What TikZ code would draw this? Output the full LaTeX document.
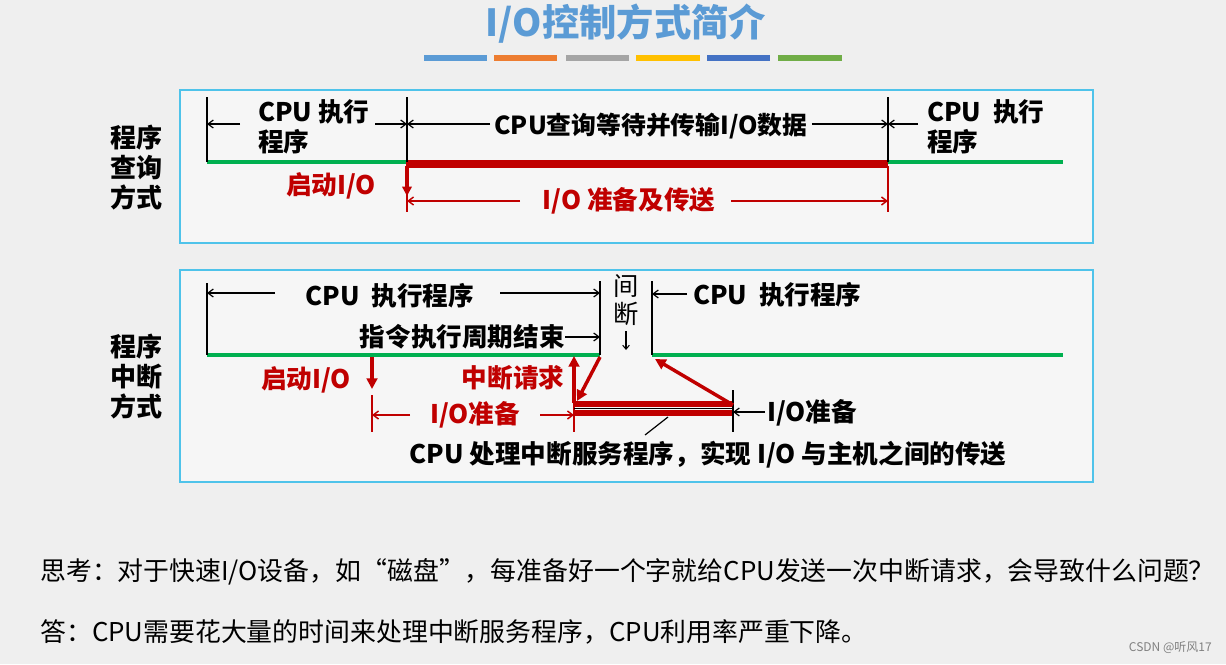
\documentclass[tikz,border=0pt]{standalone}
\usepackage{fontspec}
\setmainfont{Noto Sans CJK SC}
\usetikzlibrary{arrows.meta}
\definecolor{bg}{HTML}{EFEFEF}
\definecolor{panel}{HTML}{F6F6F6}
\definecolor{frame}{HTML}{4FC3EA}
\definecolor{myred}{HTML}{C00000}
\definecolor{mygreen}{HTML}{00B050}
\definecolor{ttlblue}{HTML}{5B9BD5}
\definecolor{b1}{HTML}{5B9BD5}
\definecolor{b2}{HTML}{ED7D31}
\definecolor{b3}{HTML}{A5A5A5}
\definecolor{b4}{HTML}{FFC000}
\definecolor{b5}{HTML}{4472C4}
\definecolor{b6}{HTML}{70AD47}
\begin{document}
\begin{tikzpicture}[x=0.75pt,y=-0.75pt,
  lbl/.style={font=\fontsize{19.2}{22.5}\selectfont\bfseries, inner sep=0pt, align=left},
  rlbl/.style={lbl, text=myred},
  side/.style={font=\fontsize{19.5}{22.5}\selectfont\bfseries, inner sep=0pt, align=center},
  panelbox/.style={draw=frame, fill=panel, line width=1.2pt},
  tick/.style={draw=black, line width=1.3pt},
  axis/.style={draw=black, line width=0.8pt},
  cpuline/.style={draw=mygreen, line width=3pt},
  ioline/.style={draw=myred, line width=6pt},
  dim/.style={draw=black, line width=0.9pt, -{Straight Barb[length=4pt,width=6pt]}},
  rdim/.style={draw=myred, line width=1.1pt, -{Straight Barb[length=4pt,width=6pt]}},
  rtick/.style={draw=myred, line width=1.5pt},
  rarrow/.style={draw=myred, line width=2.6pt, -{Triangle[length=8pt,width=8pt]}},
  bar/.style={line width=4.5pt},
  note/.style={font=\fontsize{19.4}{22}\selectfont, inner sep=0pt, anchor=west}
]
\useasboundingbox (0,0) rectangle (1226,664);
\fill[bg] (0,0) rectangle (1226,664);

% title
\node[font=\fontsize{28}{32}\selectfont\bfseries, text=ttlblue, inner sep=0pt] (title) at (626,24) {I/O控制方式简介};
\draw[bar, b1] (424,58) -- (487,58);
\draw[bar, b2] (494,58) -- (557,58);
\draw[bar, b3] (566,58) -- (629,58);
\draw[bar, b4] (636,58) -- (700,58);
\draw[bar, b5] (707,58) -- (770,58);
\draw[bar, b6] (778,58) -- (842,58);

% panels
\draw[panelbox] (180,90) rectangle (1093,243);
\draw[panelbox] (180,270) rectangle (1093,482);

% side labels
\node[side] (s1) at (136,168) {程序\\查询\\方式};
\node[side] (s2) at (136,377) {程序\\中断\\方式};

% ===== top panel (polling) =====
\coordinate (A0) at (207,162);
\coordinate (A1) at (407,162);
\coordinate (A2) at (888,162);
\coordinate (A3) at (1063,162);
\coordinate (A0t) at (207,97);
\coordinate (A1t) at (407,97);
\coordinate (A2t) at (888,97);
\coordinate (A1b) at (407,212);
\coordinate (A2b) at (888,212);

\draw[axis] (A0) -- (A3);
\draw[cpuline] (A0) -- (A1);
\draw[ioline] ([yshift=-1.5pt]A1) -- ([yshift=-1.5pt]A2);
\draw[cpuline] (A2) -- (A3);
\draw[tick] (A0t) -- (A0);
\draw[tick] (A1t) -- (A1);
\draw[tick] (A2t) -- (A2);
\draw[rtick] (A1) -- (A1b);
\draw[rtick] ([yshift=-3pt]A2) -- (A2b);
\draw[draw=myred, line width=2.4pt, -{Triangle[length=7pt,width=7pt]}] ([yshift=-3pt]A1) -- (407,196);

\node[lbl, anchor=west] (ta) at (258,127) {CPU 执行\\程序};
\node[lbl, font=\fontsize{18.6}{22.5}\selectfont\bfseries] (tb) at (651,126) {CPU查询等待并传输I/O数据};
\node[lbl, anchor=west] (tc) at (927,127) {CPU\ \ 执行\\程序};
\node[rlbl] (td) at (331,186) {启动I/O};
\node[rlbl] (te) at (629,201) {I/O 准备及传送};

\coordinate (p1) at (240,124);
\coordinate (p2) at (375,124);
\coordinate (p4) at (818,124);
\coordinate (p5) at (918,124);
\draw[dim] (p1) -- (207,124);
\draw[dim] (p2) -- (407,124);
\draw[dim] ([xshift=-3pt]tb.west |- p1) -- (407,124);
\draw[dim] ([xshift=3pt]tb.east |- p4) -- (888,124);
\draw[dim] (p5) -- (888,124);
\coordinate (q1) at (520,201);
\coordinate (q2) at (731,201);
\draw[rdim] (q1) -- (407,201);
\draw[rdim] (q2) -- (888,201);

% ===== bottom panel (interrupt) =====
\coordinate (B0) at (207,355);
\coordinate (B1) at (600,355);
\coordinate (B2) at (652,355);
\coordinate (B3) at (1063,355);
\draw[axis] (B0) -- (B1);
\draw[axis] (B2) -- (B3);
\draw[cpuline] (B0) -- (B1);
\draw[cpuline] (B2) -- (B3);
\draw[tick] (207,283) -- (B0);
\draw[tick] (600,281) -- (B1);
\draw[tick] (652,281) -- (B2);

\node[lbl] (ua) at (390,296) {CPU\ \ 执行程序};
\node[lbl, anchor=west] (ub) at (693,295) {CPU\ \ 执行程序};
\node[lbl, anchor=east] (uc) at (565,337) {指令执行周期结束};
\node[font=\fontsize{19}{21.5}\selectfont, inner sep=0pt, align=center] (ud) at (626,300) {间\\断};
\coordinate (ud1) at (626,331);
\coordinate (ud2) at (626,350);
\draw[draw=black, line width=0.8pt, -{Straight Barb[length=3pt,width=5pt]}] (ud1) -- (ud2);

\draw[dim] (275,293) -- (207,293);
\draw[dim] (500,293) -- (600,293);
\draw[dim] (687,294) -- (652,294);
\draw[dim] (uc.east) -- (600,337);

\node[rlbl] (ue) at (306,380) {启动I/O};
\node[rlbl] (uf) at (513,378) {中断请求};
\node[rlbl] (ug) at (475,415) {I/O准备};
\node[lbl] (uh) at (812,413) {I/O准备};
\node[lbl] (ui) at (708,455) {CPU 处理中断服务程序，实现 I/O 与主机之间的传送};

% start I/O arrow
\draw[rarrow] (372,357) -- (372,389);
\draw[rtick] (372,395) -- (372,432);
\draw[rtick] (574,400) -- (574,432);
\draw[rdim] (410,415) -- (372,415);
\draw[rdim] (540,415) -- (574,415);

% service routine band
\coordinate (C0) at (574,408);
\coordinate (C1) at (733,408);
\draw[draw=myred, line width=4pt] (574,404) -- (733,404);
\draw[draw=myred, line width=4.5pt] (574,413) -- (733,413);
\draw[draw=black, line width=0.8pt] (574,408.5) -- (733,408.5);
\draw[tick] (733,390) -- (733,432);
\draw[dim] (765,412) -- (733,412);
\draw[draw=black, line width=0.9pt] (668,417) -- (645,435);

% interrupt arrows
\draw[rarrow] (574,403) -- (574,356);
\draw[rarrow] (600,357) -- (577,401);
\draw[rarrow] (733,405) -- (655,359);

% bottom text
\node[note] (q) at (40,572) {思考：对于快速I/O设备，如“磁盘”，每准备好一个字就给CPU发送一次中断请求，会导致什么问题？};
\node[note] (ans) at (40,632) {答：CPU需要花大量的时间来处理中断服务程序，CPU利用率严重下降。};
\node[font=\fontsize{9}{11}\selectfont, text=gray, inner sep=0pt, anchor=east] (wm) at (1212,648) {CSDN @听风17};
\end{tikzpicture}
\end{document}
